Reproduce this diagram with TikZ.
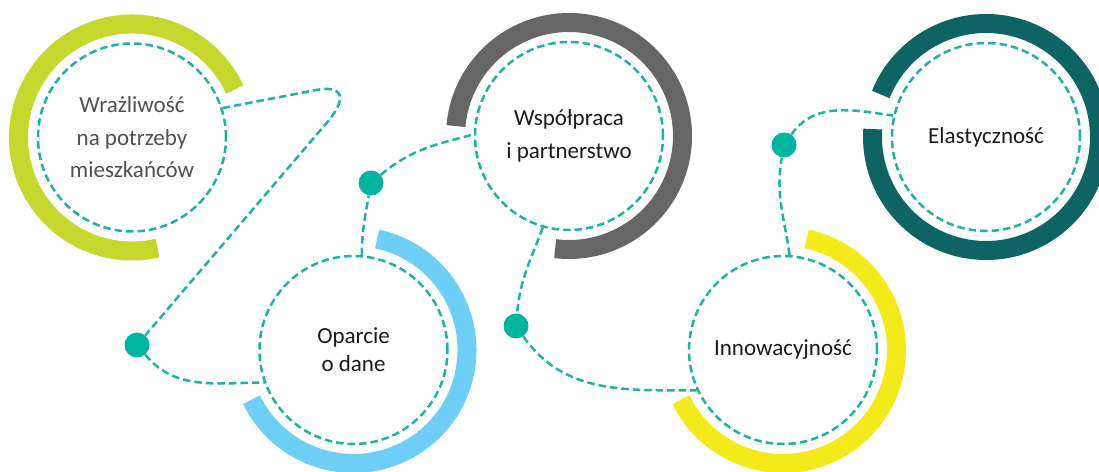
\documentclass[tikz,border=0pt]{standalone}
\usepackage{fontspec}
\setmainfont{Carlito}
\definecolor{dashc}{HTML}{1DB3A3}
\definecolor{dotc}{HTML}{00B4A0}
\definecolor{rgreen}{HTML}{C4D82E}
\definecolor{rblue}{HTML}{6DCFF6}
\definecolor{rgray}{HTML}{666666}
\definecolor{ryellow}{HTML}{F4EA1A}
\definecolor{rteal}{HTML}{0D6462}
\definecolor{txtg}{HTML}{505050}
\definecolor{txtd}{HTML}{1A1A1A}
\begin{document}
\begin{tikzpicture}[x=1pt,y=1pt,
  conn/.style={draw=dashc, line width=2.5pt, dash pattern=on 7.5pt off 4pt},
  hub/.style={circle, minimum size=188pt, inner sep=0pt, conn, align=center,
    font=\fontsize{23}{32.5}\selectfont, text=txtd},
  dotn/.style={circle, fill=dotc, minimum size=25pt, inner sep=0pt},
  ring/.style={line width=19pt}]
\useasboundingbox (0,0) rectangle (1099,471);
% rings
\draw[ring, rgreen]  (132,333.5) ++(25:113.5)  arc[start angle=25,  end angle=283, radius=113.5];
\draw[ring, rblue]   (353.5,121) ++(-154:113.5) arc[start angle=-154, end angle=78,  radius=113.5];
\draw[ring, rgray]   (569,335)   ++(-97:113.5)  arc[start angle=-97,  end angle=175, radius=113.5];
\draw[ring, ryellow] (783,121)   ++(-154:113.5) arc[start angle=-154, end angle=78,  radius=113.5];
\draw[ring, rteal]   (986,334)   ++(176:113.5)  arc[start angle=176,  end angle=518, radius=113.5];
% hubs
\node[hub, text=txtg] (c1) at (132,333.5) {Wrażliwość\\na potrzeby\\mieszkańców};
\node[hub, font=\fontsize{23}{28}\selectfont] (c2) at (353.5,121) {Oparcie\\o dane};
\node[hub] (c3) at (569,335) {Współpraca\\i partnerstwo};
\node[hub] (c4) at (783,121) {Innowacyjność};
\node[hub] (c5) at (986,334) {Elastyczność};
% dots
\node[dotn] (d1) at (137,126) {};
\node[dotn] (d2) at (371,288) {};
\node[dotn] (d3) at (516,145) {};
\node[dotn] (d4) at (784,326) {};
% connectors
\coordinate (k1) at (316,381);
\coordinate (k2) at (330,352);
\draw[conn] (c1.18) -- (k1) .. controls (344,386) and (346,373) .. (k2) -- (d1);
\draw[conn] (d1) to[out=-50, in=180] (c2.200);
\draw[conn] (c2.85) to[out=90, in=-100] (d2);
\draw[conn] (d2) to[out=40, in=195] (c3.179);
\draw[conn] (c3.254) to[out=-110, in=85] (d3);
\draw[conn] (d3) to[out=-55, in=180] (c4.205);
\draw[conn] (c4.86) to[out=98, in=-100] (d4);
\draw[conn] (d4) to[out=55, in=172] (c5.167);
\end{tikzpicture}
\end{document}
